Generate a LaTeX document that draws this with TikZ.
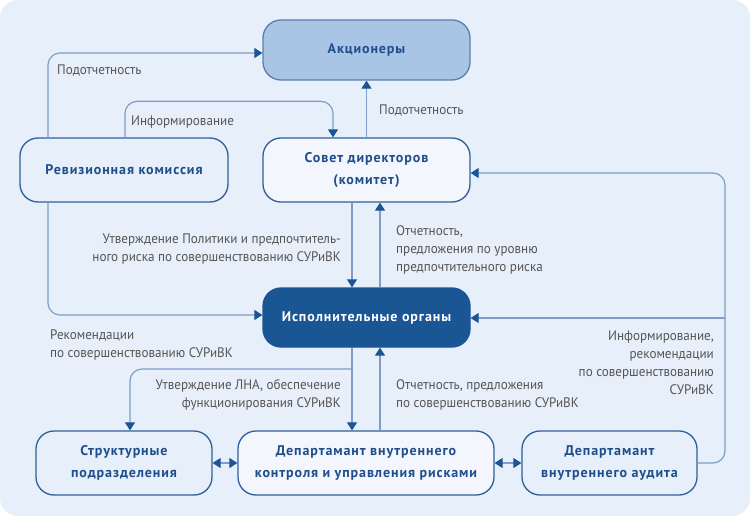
\documentclass[tikz,border=0pt]{standalone}
\usepackage{fontspec}
\setmainfont{PT Sans}
\newfontfamily\lblfont[FakeStretch=0.95]{PT Sans}
\newfontfamily\hdfont[LetterSpace=6.5]{PT Sans Bold}
\usetikzlibrary{arrows.meta,calc}
\definecolor{bgc}{HTML}{E7EFFA}
\definecolor{bord}{HTML}{2F5F98}
\definecolor{lnc}{HTML}{7F9DC8}
\definecolor{tipc}{HTML}{1B5596}
\definecolor{txt}{HTML}{1F4E8C}
\definecolor{lbl}{HTML}{555555}
\definecolor{akcf}{HTML}{A9C5E6}
\definecolor{lightf}{HTML}{F3F6FC}
\definecolor{darkf}{HTML}{1A5694}
\tikzset{
  box/.style={draw=bord, line width=1.3pt, rounded corners=18pt, align=center,
    font=\hdfont\fontsize{14}{22}\selectfont, text=txt, inner sep=0pt},
  conn/.style={draw=lnc, line width=1.2pt, rounded corners=12pt,
    -{Triangle[length=8pt,width=10pt,color=tipc]}},
  dconn/.style={draw=lnc, line width=1.2pt,
    {Triangle[length=8pt,width=10pt,color=tipc]}-{Triangle[length=8pt,width=10pt,color=tipc]}},
  lab/.style={font=\lblfont\fontsize{13.8}{18}\selectfont, text=lbl, inner sep=0pt}
}
\begin{document}
\begin{tikzpicture}[x=1pt,y=-1pt]
\useasboundingbox (0,0) rectangle (750,516);
\fill[white] (0,0) rectangle (750,516);
\fill[bgc, rounded corners=18pt] (0,0) rectangle (750,516);

\node[box, fill=akcf, draw=bord!80, minimum width=207pt, minimum height=60pt] (akc) at (366.5,50) {Акционеры};
\node[box, fill=bgc, minimum width=208pt, minimum height=64pt] (rev) at (124,170) {Ревизионная комиссия};
\node[box, fill=lightf, minimum width=207pt, minimum height=64pt] (sov) at (366.5,170) {Совет директоров\\(комитет)};
\node[box, fill=darkf, draw=darkf, text=white, minimum width=207pt, minimum height=59pt] (isp) at (366.5,317.5) {Исполнительные органы};
\node[box, fill=bgc, minimum width=176pt, minimum height=64pt] (str) at (124,463) {Структурные\\подразделения};
\node[box, fill=lightf, minimum width=256pt, minimum height=64pt] (dvk) at (366,463) {Департамант внутреннего\\контроля и управления рисками};
\node[box, fill=bgc, minimum width=175pt, minimum height=64pt] (aud) at (609.5,463) {Департамант\\внутреннего аудита};

\coordinate (b1) at (352,369);
\coordinate (rt) at (725,173);
\coordinate (rm) at (725,318);

% Ревизионная -> Акционеры
\draw[conn] ([xshift=-76pt]rev.north) |- ([yshift=-3pt]akc.west);
% Ревизионная -> Совет
\draw[conn] ([xshift=1pt]rev.north) -- ++(0,-36) -| ([xshift=-33.5pt]sov.north);
% Совет -> Акционеры
\draw[conn] (sov.north) -- (akc.south);
% Совет -> Исп
\draw[conn] ([xshift=-14.5pt]sov.south) -- ([xshift=-14.5pt]isp.north);
% Исп -> Совет
\draw[conn] ([xshift=13.5pt]isp.north) -- ([xshift=13.5pt]sov.south);
% Ревизионная -> Исп
\draw[conn] ([xshift=-76pt]rev.south) |- ([yshift=2.5pt]isp.west);
% Исп -> ДВК, Структурные
\draw[conn] ([xshift=-14.5pt]isp.south) -- ([xshift=-14pt]dvk.north);
\draw[conn] (b1) -| ([xshift=6pt]str.north);
% ДВК -> Исп
\draw[conn] ([xshift=14pt]dvk.north) -- ([xshift=13.5pt]isp.south);
% double arrows
\draw[dconn] (str.east) -- (dvk.west);
\draw[dconn] (dvk.east) -- (aud.west);
% Аудит -> Совет, Исп
\draw[conn] (aud.east) -| (rt) -- (sov.east |- rt);
\draw[conn] (rm) -- (isp.east |- rm);

% labels
\node[lab, anchor=west] (l1) at (57,71) {Подотчетность};
\node[lab, anchor=west] (l2) at (131,122) {Информирование};
\node[lab, anchor=west] (l3) at (379,111) {Подотчетность};
\node[lab, anchor=east, align=right] (l4) at (341,249.5) {Утверждение Политики и предпочтитель-\\ного риска по совершенствованию СУРиВК};
\node[lab, anchor=west, align=left] (l5) at (396,250) {Отчетность,\\предложения по уровню\\предпочтительного риска};
\node[lab, anchor=west, align=left] (l6) at (50,345) {Рекомендации\\по совершенствованию СУРиВК};
\node[lab, anchor=east, align=right] (l7) at (341,395) {Утверждение ЛНА, обеспечение\\функционирования СУРиВК};
\node[lab, anchor=west, align=left] (l8) at (396,395) {Отчетность, предложения\\по совершенствованию СУРиВК};
\node[lab, anchor=east, align=right] (l9) at (714,362.5) {Информирование,\\рекомендации\\по совершенствованию\\СУРиВК};
\end{tikzpicture}
\end{document}
